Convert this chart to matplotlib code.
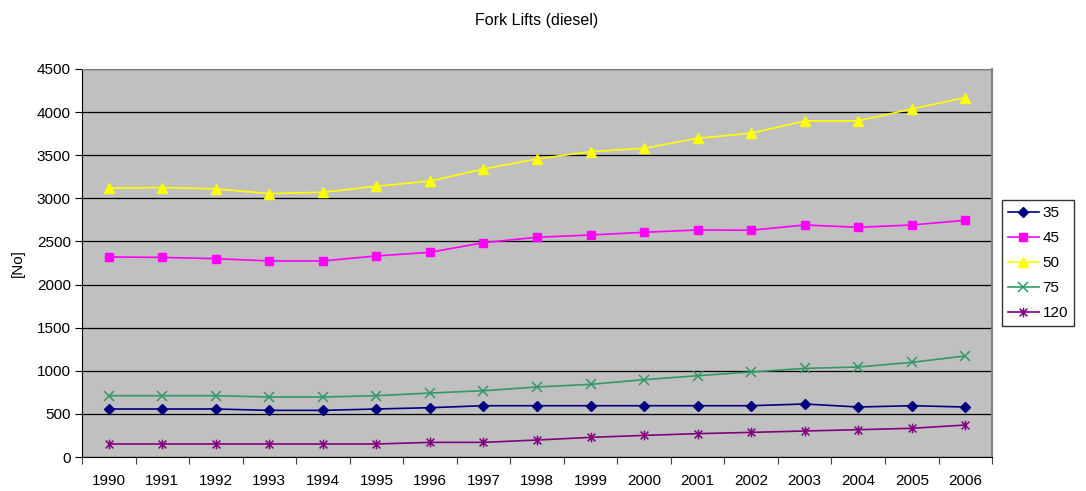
import matplotlib
matplotlib.use('Agg')
import matplotlib.pyplot as plt
from matplotlib.path import Path

years = [str(y) for y in range(1990, 2007)]
s35 = [557, 557, 557, 541, 541, 557, 572, 595, 595, 595, 595, 595, 595, 615, 580, 595, 580]
s45 = [2320, 2315, 2300, 2274, 2274, 2332, 2374, 2486, 2548, 2575, 2606, 2633, 2630, 2691, 2664, 2691, 2745]
s50 = [3117, 3125, 3110, 3055, 3070, 3140, 3200, 3341, 3457, 3542, 3580, 3697, 3755, 3898, 3898, 4037, 4168]
s75 = [711, 711, 711, 696, 696, 711, 742, 769, 812, 843, 897, 943, 986, 1028, 1044, 1098, 1172]
s120 = [151, 151, 151, 151, 151, 151, 170, 170, 197, 228, 251, 271, 286, 302, 317, 333, 371]

plt.rcParams['font.family'] = ['Liberation Sans', 'DejaVu Sans']

# excel-style asterisk: an x with a vertical stroke through it
star = Path([(-1, -1), (1, 1), (-1, 1), (1, -1), (0, -1.25), (0, 1.25)],
            [Path.MOVETO, Path.LINETO, Path.MOVETO, Path.LINETO, Path.MOVETO, Path.LINETO])

series = [('35', s35, '#000080', 'D', 5),
          ('45', s45, '#FF00FF', 's', 5.5),
          ('50', s50, '#FFFF00', '^', 6.5),
          ('75', s75, '#339966', 'x', 6.5),
          ('120', s120, '#800080', star, 7)]

fig = plt.figure(figsize=(10.86, 4.91), dpi=100)
ax = fig.add_axes([0.0755, 0.0692, 0.838, 0.7903])
ax.set_facecolor('#c0c0c0')

x = list(range(len(years)))
for name, vals, col, mk, ms in series:
    kw = dict(markerfacecolor='none', markeredgewidth=1.1) if mk in ('x',) or mk is star else {}
    ax.plot(x, vals, color=col, lw=1.2, marker=mk, markersize=ms, label=name,
            markeredgecolor=col, **kw)

ax.set_xlim(-0.5, len(years) - 0.5)
ax.set_ylim(0, 4500)
ax.set_yticks(range(0, 4501, 500))
ax.yaxis.grid(True, color='black', lw=0.9)
ax.set_axisbelow(True)

ax.set_xticks([i - 0.5 for i in range(len(years) + 1)])
ax.set_xticklabels([])
ax.set_xticks(x, minor=True)
ax.set_xticklabels(years, minor=True)
ax.tick_params(axis='x', which='minor', length=0, pad=12)
ax.tick_params(axis='x', which='major', length=5, direction='out', color='#404040')
ax.tick_params(axis='y', length=5, direction='out', pad=3)
ax.tick_params(which='both', labelsize=11)

ax.spines['top'].set_color('#808080')
ax.spines['right'].set_color('#808080')
ax.spines['right'].set_linewidth(1.5)
ax.spines['left'].set_color('black')
ax.spines['bottom'].set_color('black')

ax.set_ylabel('[No]', fontsize=11, labelpad=9)
ax.set_title('Fork Lifts (diesel)', fontsize=11.5, pad=32)

ax.legend(loc='center left', bbox_to_anchor=(1.011, 0.5), frameon=True, fancybox=False,
          edgecolor='black', fontsize=11, handlelength=2.0, borderpad=0.4,
          labelspacing=0.72, handletextpad=0.25, borderaxespad=0)

fig.savefig('out.png', dpi=100, facecolor='white')
